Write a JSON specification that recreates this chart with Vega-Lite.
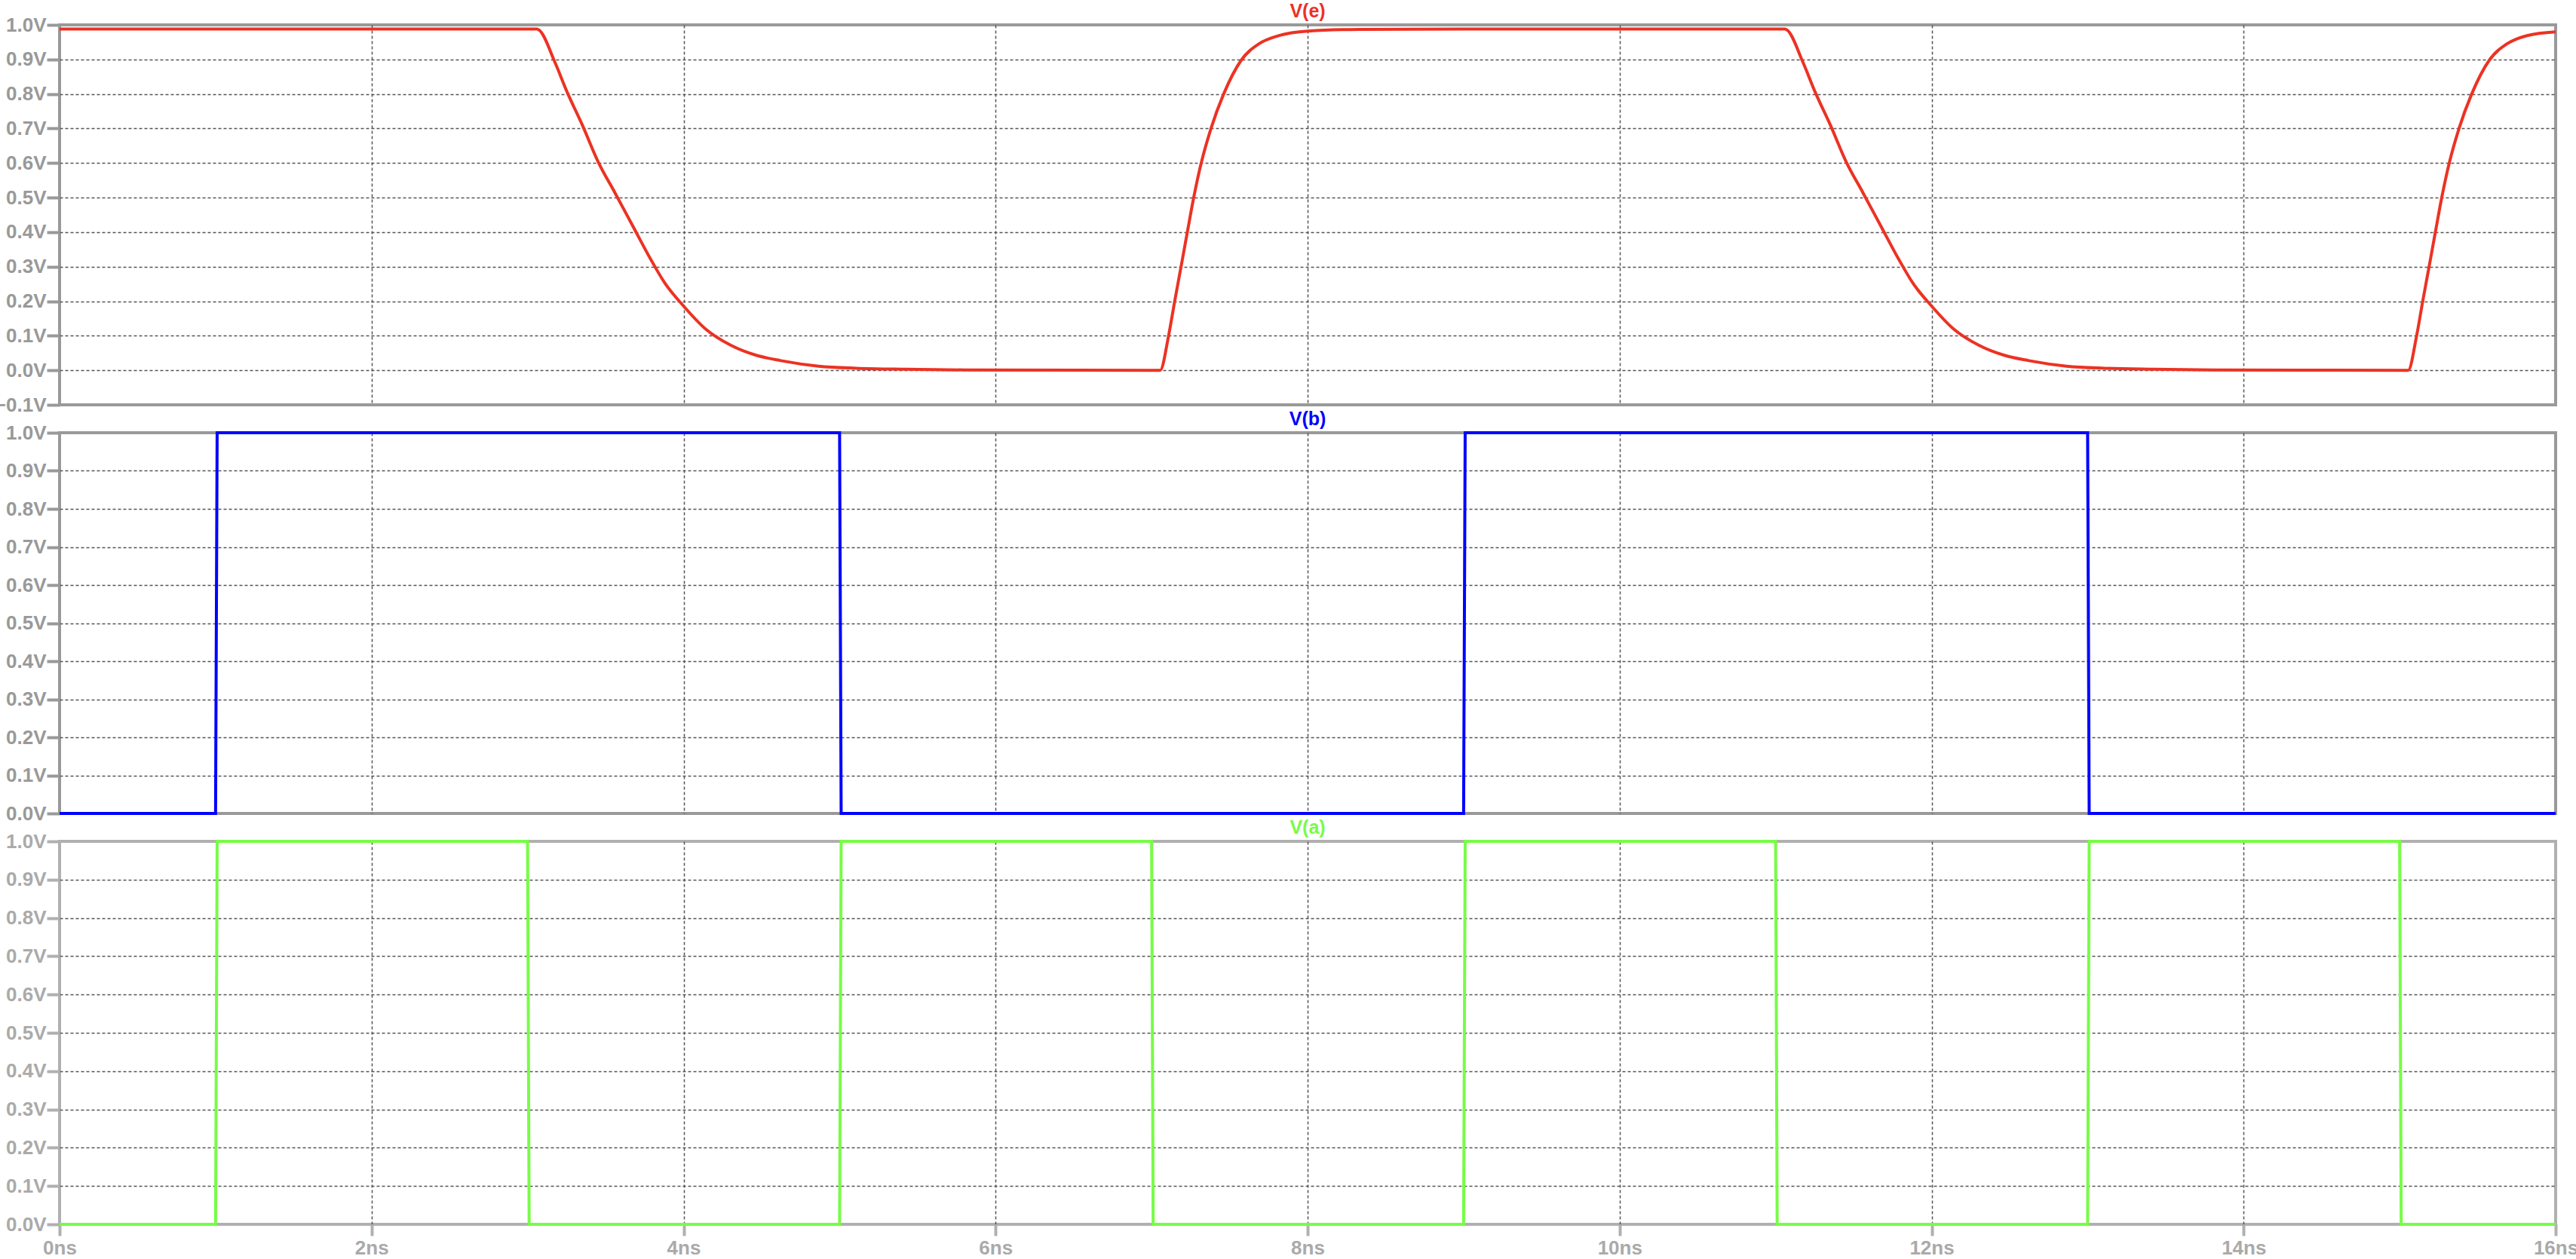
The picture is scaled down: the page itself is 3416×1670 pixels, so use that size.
{
  "$schema": "https://vega.github.io/schema/vega-lite/v6.json",
  "background": "white",
  "padding": {"left": -10, "top": 1, "right": 0, "bottom": 0},
  "bounds": "flush",
  "spacing": 37,
  "config": {
    "font": "Liberation Sans",
    "view": {"stroke": "#999999", "strokeWidth": 4},
    "axis": {
      "grid": true,
      "gridColor": "#555555",
      "gridDash": [4, 3],
      "gridWidth": 1.5,
      "domain": false,
      "labelFont": "Liberation Sans",
      "labelFontWeight": "bold",
      "labelFontSize": 26,
      "labelColor": "#999999",
      "labelFlush": false,
      "tickColor": "#999999",
      "tickWidth": 4,
      "title": null
    },
    "title": {"font": "Liberation Sans", "fontWeight": "bold", "fontSize": 25, "anchor": "middle", "baseline": "alphabetic", "offset": -8}
  },
  "vconcat": [
    {
      "width": 3310,
      "height": 504,
      "title": {"text": "V(e)", "color": "#ec3223"},
      "data": {"values": [
        {"t": 0, "v": 0.988}, {"t": 3.06, "v": 0.988}, {"t": 3.074, "v": 0.985}, {"t": 3.174, "v": 0.893},
        {"t": 3.254, "v": 0.805}, {"t": 3.351, "v": 0.71}, {"t": 3.455, "v": 0.601}, {"t": 3.56, "v": 0.514},
        {"t": 3.673, "v": 0.419}, {"t": 3.786, "v": 0.324}, {"t": 3.882, "v": 0.251}, {"t": 4.0, "v": 0.186},
        {"t": 4.14, "v": 0.12}, {"t": 4.301, "v": 0.073}, {"t": 4.462, "v": 0.044}, {"t": 4.623, "v": 0.028},
        {"t": 4.865, "v": 0.012}, {"t": 5.107, "v": 0.006}, {"t": 5.429, "v": 0.003}, {"t": 5.8, "v": 0.001},
        {"t": 7.055, "v": 0.0}, {"t": 7.108, "v": 0.098}, {"t": 7.148, "v": 0.2}, {"t": 7.188, "v": 0.298},
        {"t": 7.229, "v": 0.4}, {"t": 7.269, "v": 0.498}, {"t": 7.318, "v": 0.6}, {"t": 7.382, "v": 0.702},
        {"t": 7.462, "v": 0.8}, {"t": 7.575, "v": 0.898}, {"t": 7.688, "v": 0.945}, {"t": 7.817, "v": 0.969},
        {"t": 8.002, "v": 0.982}, {"t": 8.332, "v": 0.987}, {"t": 9.0, "v": 0.988}, {"t": 11.06, "v": 0.988},
        {"t": 11.074, "v": 0.985}, {"t": 11.174, "v": 0.893}, {"t": 11.254, "v": 0.805}, {"t": 11.351, "v": 0.71},
        {"t": 11.455, "v": 0.601}, {"t": 11.56, "v": 0.514}, {"t": 11.673, "v": 0.419}, {"t": 11.786, "v": 0.324},
        {"t": 11.882, "v": 0.251}, {"t": 12.0, "v": 0.186}, {"t": 12.14, "v": 0.12}, {"t": 12.301, "v": 0.073},
        {"t": 12.462, "v": 0.044}, {"t": 12.623, "v": 0.028}, {"t": 12.865, "v": 0.012}, {"t": 13.107, "v": 0.006},
        {"t": 13.429, "v": 0.003}, {"t": 13.8, "v": 0.001}, {"t": 15.055, "v": 0.0}, {"t": 15.108, "v": 0.098},
        {"t": 15.148, "v": 0.2}, {"t": 15.188, "v": 0.298}, {"t": 15.229, "v": 0.4}, {"t": 15.269, "v": 0.498},
        {"t": 15.318, "v": 0.6}, {"t": 15.382, "v": 0.702}, {"t": 15.462, "v": 0.8}, {"t": 15.575, "v": 0.898},
        {"t": 15.688, "v": 0.945}, {"t": 15.817, "v": 0.969}, {"t": 16.0, "v": 0.98}
      ]},
      "mark": {"type": "line", "color": "#ec3223", "strokeWidth": 4, "clip": true, "interpolate": "monotone"},
      "encoding": {
        "x": {"field": "t", "type": "quantitative", "scale": {"domain": [0, 16], "nice": false, "zero": false},
              "axis": {"values": [0, 2, 4, 6, 8, 10, 12, 14, 16], "labels": false, "ticks": false,
                       "gridOpacity": {"condition": {"test": "datum.value <= 0 || datum.value >= 16", "value": 0}, "value": 1}}},
        "y": {"field": "v", "type": "quantitative", "scale": {"domain": [-0.1, 1.0], "nice": false, "zero": false},
              "axis": {"values": [-0.1, 0, 0.1, 0.2, 0.3, 0.4, 0.5, 0.6, 0.7, 0.8, 0.9, 1.0],
                       "labelExpr": "format(datum.value, '.1f') + 'V'", "tickSize": 17, "labelPadding": 1,
                       "gridOpacity": {"condition": {"test": "datum.value < -0.05 || datum.value > 0.95", "value": 0}, "value": 1}}}
      }
    },
    {
      "width": 3310,
      "height": 505,
      "title": {"text": "V(b)", "color": "#0000ff"},
      "data": {"values": [
        {"t": 0, "v": 0}, {"t": 1.0, "v": 0}, {"t": 1.01, "v": 1}, {"t": 5.0, "v": 1}, {"t": 5.01, "v": 0},
        {"t": 9.0, "v": 0}, {"t": 9.01, "v": 1}, {"t": 13.0, "v": 1}, {"t": 13.01, "v": 0}, {"t": 16, "v": 0}
      ]},
      "mark": {"type": "line", "color": "#0000ff", "strokeWidth": 4, "clip": false},
      "encoding": {
        "x": {"field": "t", "type": "quantitative", "scale": {"domain": [0, 16], "nice": false, "zero": false},
              "axis": {"values": [0, 2, 4, 6, 8, 10, 12, 14, 16], "labels": false, "ticks": false,
                       "gridOpacity": {"condition": {"test": "datum.value <= 0 || datum.value >= 16", "value": 0}, "value": 1}}},
        "y": {"field": "v", "type": "quantitative", "scale": {"domain": [0, 1.0], "nice": false},
              "axis": {"values": [0, 0.1, 0.2, 0.3, 0.4, 0.5, 0.6, 0.7, 0.8, 0.9, 1.0],
                       "labelExpr": "format(datum.value, '.1f') + 'V'", "tickSize": 17, "labelPadding": 1,
                       "gridOpacity": {"condition": {"test": "datum.value < 0.05 || datum.value > 0.95", "value": 0}, "value": 1}}}
      }
    },
    {
      "width": 3310,
      "height": 508,
      "view": {"stroke": "#b0b0b0", "strokeWidth": 4},
      "title": {"text": "V(a)", "color": "#77fc46"},
      "data": {"values": [
        {"t": 0, "v": 0}, {"t": 1.0, "v": 0}, {"t": 1.01, "v": 1}, {"t": 3.0, "v": 1}, {"t": 3.01, "v": 0},
        {"t": 5.0, "v": 0}, {"t": 5.01, "v": 1}, {"t": 7.0, "v": 1}, {"t": 7.01, "v": 0},
        {"t": 9.0, "v": 0}, {"t": 9.01, "v": 1}, {"t": 11.0, "v": 1}, {"t": 11.01, "v": 0},
        {"t": 13.0, "v": 0}, {"t": 13.01, "v": 1}, {"t": 15.0, "v": 1}, {"t": 15.01, "v": 0}, {"t": 16, "v": 0}
      ]},
      "mark": {"type": "line", "color": "#77fc46", "strokeWidth": 4, "clip": false},
      "encoding": {
        "x": {"field": "t", "type": "quantitative", "scale": {"domain": [0, 16], "nice": false, "zero": false},
              "axis": {"values": [0, 2, 4, 6, 8, 10, 12, 14, 16], "labelExpr": "format(datum.value, 'd') + 'ns'",
                       "tickSize": 15, "labelPadding": 3, "tickColor": "#b0b0b0", "labelColor": "#aaaaaa",
                       "gridOpacity": {"condition": {"test": "datum.value <= 0 || datum.value >= 16", "value": 0}, "value": 1}}},
        "y": {"field": "v", "type": "quantitative", "scale": {"domain": [0, 1.0], "nice": false},
              "axis": {"values": [0, 0.1, 0.2, 0.3, 0.4, 0.5, 0.6, 0.7, 0.8, 0.9, 1.0],
                       "labelExpr": "format(datum.value, '.1f') + 'V'", "tickSize": 17, "labelPadding": 1,
                       "tickColor": "#b0b0b0", "labelColor": "#aaaaaa",
                       "gridOpacity": {"condition": {"test": "datum.value < 0.05 || datum.value > 0.95", "value": 0}, "value": 1}}}
      }
    }
  ]
}
